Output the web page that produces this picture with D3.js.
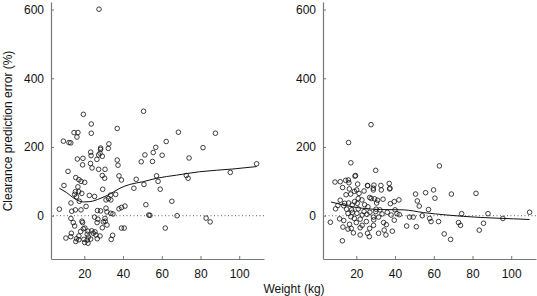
<!DOCTYPE html>
<html>
<head>
<meta charset="utf-8">
<script src="https://cdn.jsdelivr.net/npm/d3@7"></script>
<style>
  body { margin: 0; background: #fff; }
  svg text { font-family: "Liberation Sans", Arial, sans-serif; }
</style>
</head>
<body>
<svg class="svg-chart"></svg>
<script>
// tick labels
const xTicks = [20, 40, 60, 80, 100]
const yTicks = [0, 200, 400, 600]

// left panel: weight (kg) vs clearance prediction error (%)
const leftWeight = [27.6, 50.6, 19.5, 23.6, 23.6, 37.0, 14.7, 16.7, 16.2, 9.2, 12.1, 13.0, 68.6, 87.7, 62.3, 81.3, 56.9, 51.3, 60.2, 55.6,
  74.1, 49.4, 55.2, 109, 95.4, 72.7, 73.6, 57.3, 58.1, 59.2, 65.2, 53.9, 67.9, 61.8, 82.9, 85, 37, 37.4, 37.9, 39.2,
  36.2, 45.6, 46.8, 50.8, 51.8, 53.3, 37.9, 39.2, 41, 39.2, 40.6, 34.6, 33.9, 33.7, 32.5, 33.6, 29.5, 30.7, 30.5, 29.3,
  27.4, 26.5, 29.3, 27.4, 23.3, 23.5, 23.2, 24, 22.6, 25.3, 16.4, 19.3, 19.1, 18.3, 20.2, 17.2, 15.6, 11.6, 9.5, 16.7,
  17.1, 15.4, 15, 18.7, 16, 17.4, 13.1, 7.1, 13.5, 15.4, 18.3, 20.9, 26.8, 28.4, 31.2, 31.7, 33.7, 34.8, 31.2, 30.7,
  13.1, 14.3, 15, 18.8, 19.1, 20.3, 21.9, 21.5, 23.8, 25.5, 25.3, 27, 26.6, 29.8, 30.8, 29.3, 31.7, 23.3, 22.1, 21.5,
  19.8, 20.2, 21.9, 19.5, 18.1, 17.2, 16, 13.3, 13, 10.5, 17.2, 15.6, 26.7, 28.1, 26, 24.6, 32.7, 32.4, 28.4, 28.4, 28.1]
const leftError = [601, 304, 295, 267, 240, 254, 242, 242, 229, 217, 213, 212, 243, 240, 216, 198, 199, 177, 176, 184,
  168, 157, 158, 151, 126, 117, 109, 116, 100, 77, 42, 1, 0, -36, -7, -18, 162, 147, 116, 104,
  62, 80, 106, 91, 32, 2, 20, 24, 28, -36, -36, -57, -69, 46, 50, 60, 77, 135, 109, 117,
  135, 164, 173, 177, 185, 175, 152, 139, 59, 56, 165, 167, 148, 100, 97, 105, 111, 129, 88, 84,
  70, 70, 62, 65, 55, 42, 37, 19, 13, 17, 17, 27, 15, 14, 22, 11, 7, 5, 46, -8,
  -8, -20, -30, -16, -20, -36, -45, -54, -44, -47, -4, -10, -20, -18, -16, -35, -27, -68, -62, -71,
  -69, -78, -80, -38, -46, -59, -67, -51, -61, -65, -70, -75, -67, -59, -56, -51, 209, 196, 197, 193, 182]
// smoothed line, left
const leftLineW = [7.1, 10.9, 15.2, 19.5, 22.9, 28.1, 33.2, 38.4, 43.5, 50.4, 57.3, 67.6, 79.6, 96.8, 109]
const leftLineE = [80, 67, 49, 40, 41, 50, 63, 80, 91, 99, 109, 118, 128, 136, 143]

// right panel
const rightWeight = [27.6, 16, 17.2, 62.9, 30, 19.3, 19.6, 9, 11.7, 14.5, 16.2, 20.7, 25.9, 28.8, 28.8, 32.7, 32.9, 37, 37.2, 12.9,
  16.4, 19, 20.2, 24, 14.7, 17.1, 21.4, 26.9, 27.7, 29.5, 31, 33.8, 37.6, 39.6, 42, 30.5, 22.9, 19.1, 11.7, 9.3,
  13.5, 16, 17.9, 20.5, 24.3, 26, 30.2, 32.2, 40, 50.6, 55.8, 59.9, 60.6, 51.5, 52.5, 57.3, 69.1, 81.8, 74.4, 88,
  109.5, 54.1, 49.4, 47.5, 41, 42.2, 6.6, 11.4, 13.5, 13.1, 15.7, 17.4, 12.8, 20.3, 23, 25.5, 19, 22, 25.2, 28.9,
  31.5, 33.3, 34.1, 35.5, 28.9, 26.9, 25.8, 22, 26.7, 31.5, 34.4, 35.3, 38.6, 39.6, 46, 51, 57.9, 58.6, 62.5, 65.4,
  68.7, 72.8, 73.8, 83.5, 85.7, 95.7, 17.2, 15.7, 17.6, 15, 25.8, 29.1, 37.4, 15.9, 21, 18, 20, 23, 16.5, 21,
  24, 27, 30, 14, 10.5, 22, 18.5, 29, 36, 38]
const rightError = [265, 213, 154, 145, 132, 115, 117, 98, 99, 103, 96, 92, 87, 80, 75, 88, 75, 94, 78, 82,
  78, 71, 75, 72, 61, 63, 65, 53, 50, 49, 45, 48, 35, 41, 46, 37, 46, 41, 45, 20,
  29, 37, 31, 36, 32, 26, 19, 17, 17, 63, 67, 75, 51, 43, 28, 18, 63, 65, 6, 6,
  10, 0, -4, -4, 6, 3, -19, -9, -14, -33, -39, -37, -73, 7, 2, 4, -8, -10, -17, -4,
  -4, 5, -20, -26, -28, -37, -51, -56, -61, -51, -42, -56, -45, -13, -30, -32, -8, -17, -17, -53,
  -69, -20, -28, -42, -22, -8, -3, 7, 17, 19, 88, 89, 80, 104, 50, 10, -20, -28, -25, 20,
  12, 10, 12, 36, 30, -35, -50, -12, 10, 2]
const rightLineW = [6.9, 20, 32.4, 44.4, 54.8, 66.8, 84, 101.2, 109.5]
const rightLineE = [40, 24, 18, 17, 9, 2, -5, -9, -11]

var width = 537
var height = 296
var svg = d3.select('.svg-chart')
  .attr('width', width)
  .attr('height', height)

// both panels share the same y scale
var y_scale = d3.scaleLinear()
  .domain([-126, 622])
  .range([259, 2])

const drawPanel = (left, weights, errors, lineW, lineE, showLabel) => {
  var x_scale = d3.scaleLinear()
    .domain([2.8, 112.8])
    .range([left, left + 213])

  var g = svg.append('g')

  // zero reference line
  g.append('line')
    .attr('x1', x_scale.range()[0] + 2)
    .attr('x2', x_scale.range()[1])
    .attr('y1', y_scale(0))
    .attr('y2', y_scale(0))
    .attr('stroke', '#333')
    .attr('stroke-width', 0.8)
    .attr('stroke-dasharray', '1,2.5')

  // axes
  var x_axis = d3.axisBottom(x_scale)
    .tickValues(xTicks)
    .tickSizeInner(-3)
    .tickSizeOuter(0)
    .tickPadding(10)
  var y_axis = d3.axisLeft(y_scale)
    .tickValues(yTicks)
    .tickSizeInner(-3)
    .tickSizeOuter(0)
    .tickPadding(7)

  var gx = g.append('g')
    .attr('transform', 'translate(0,' + y_scale.range()[0] + ')')
    .call(x_axis)
  var gy = g.append('g')
    .attr('transform', 'translate(' + left + ',0)')
    .call(y_axis)
  ;[gx, gy].forEach(a => {
    a.select('.domain').attr('stroke', '#777').attr('stroke-width', 1.2)
    a.selectAll('.tick line').attr('stroke', '#777')
    a.selectAll('text')
      .attr('font-size', 12)
      .attr('fill', '#111')
      .style('font-family', '"Liberation Sans", Arial, sans-serif')
  })

  // points
  var pts = weights.map((w, i) => ({ w: w, e: errors[i] }))
  g.selectAll('circle')
    .data(pts)
    .enter()
    .append('circle')
    .attr('cx', d => x_scale(d.w))
    .attr('cy', d => y_scale(d.e))
    .attr('r', 2.3)
    .attr('fill', 'none')
    .attr('stroke', '#111')
    .attr('stroke-width', 0.8)

  // smoothed trend
  var line = d3.line()
    .x(d => x_scale(d.w))
    .y(d => y_scale(d.e))
    .curve(d3.curveMonotoneX)
  g.append('path')
    .attr('d', line(lineW.map((w, i) => ({ w: w, e: lineE[i] }))))
    .attr('stroke', '#111')
    .attr('stroke-width', 1)
    .attr('fill', 'none')

  if (showLabel) {
    svg.append('text')
      .attr('transform', 'rotate(-90)')
      .attr('x', -131)
      .attr('y', 12)
      .attr('text-anchor', 'middle')
      .attr('font-size', 12)
      .attr('fill', '#111')
      .text('Clearance prediction error (%)')
  }
}

drawPanel(51, leftWeight, leftError, leftLineW, leftLineE, true)
drawPanel(323, rightWeight, rightError, rightLineW, rightLineE, false)

// shared x label
svg.append('text')
  .attr('x', 294)
  .attr('y', 293)
  .attr('text-anchor', 'middle')
  .attr('font-size', 12)
  .attr('fill', '#111')
  .text('Weight (kg)')
</script>
</body>
</html>
